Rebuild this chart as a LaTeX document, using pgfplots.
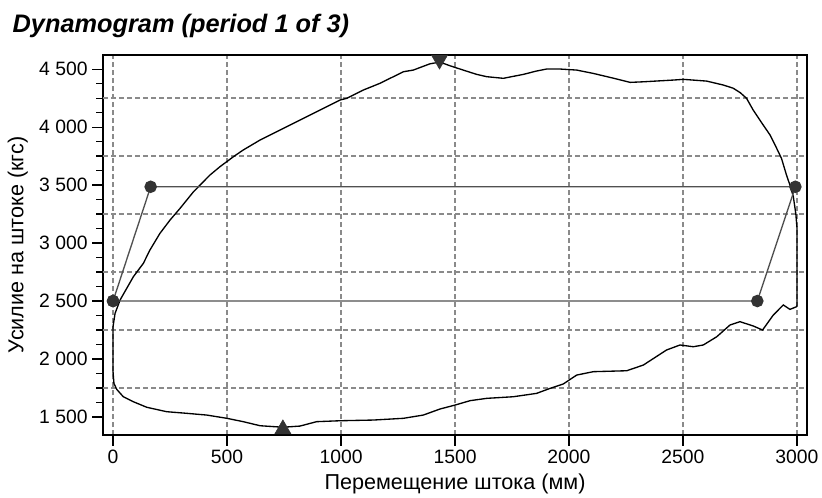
\documentclass[border=0pt]{standalone}
\usepackage{pgfplots}
\pgfplotsset{compat=1.18}
\usepackage{fontspec}
\setmainfont{Liberation Sans}
\definecolor{gridc}{HTML}{8A8A8A}
\definecolor{markc}{HTML}{333333}
\definecolor{linec}{HTML}{505050}
\begin{document}
\begin{tikzpicture}
\begin{axis}[
  scale only axis, width=528pt, height=285pt,
  xmin=-44, xmax=3044, ymin=1345, ymax=4621,
  axis line style={line width=1pt},
  xtick={0,500,1000,1500,2000,2500,3000},
  xticklabels={0,500,1000,1500,2000,2500,3000},
  ytick={1500,2000,2500,3000,3500,4000,4500},
  yticklabels={1 500,2 000,2 500,3 000,3 500,4 000,4 500},
  minor y tick num=3,
  tick align=outside, xtick pos=bottom, ytick pos=left,
  major tick length=8pt, minor tick length=5pt,
  tick style={black, line width=0.8pt},
  xmajorgrids,
  extra y ticks={1750,2250,2750,3250,3750,4250},
  extra y tick labels={},
  extra y tick style={grid=major, tick style={draw=none}},
  major grid style={gridc, dash pattern=on 3.75pt off 2.25pt, line width=0.9pt},
  ticklabel style={font=\fontsize{14.5}{16}\selectfont},
  clip marker paths=true,
]
\addplot[black, line width=1pt] coordinates {
(0,2280)(9,2394)(31,2509)(60,2609)(89,2709)(133,2825)(162,2940)(206,3084)(250,3198)(294,3299)(352,3440)(382,3500)(425,3586)(469,3658)(528,3744)(571,3802)(645,3888)(732,3974)(820,4060)(893,4132)(952,4190)(996,4233)(1025,4247)(1098,4319)(1171,4377)(1274,4477)(1317,4491)(1390,4545)(1434,4560)(1478,4528)(1536,4491)(1595,4454)(1639,4434)(1712,4420)(1800,4454)(1858,4483)(1902,4500)(1961,4500)(2034,4491)(2107,4462)(2180,4428)(2268,4385)(2326,4390)(2458,4405)(2502,4411)(2604,4396)(2677,4362)(2720,4335)(2752,4295)(2779,4247)(2808,4146)(2852,4017)(2882,3931)(2911,3816)(2932,3730)(2954,3586)(2969,3500)(2984,3400)(2995,3250)(3000,3130)(3000,2460)
(2998,2451)(2969,2428)(2940,2466)(2896,2379)(2849,2250)(2808,2285)(2750,2322)(2706,2293)(2648,2192)(2589,2121)(2545,2106)(2487,2121)(2428,2078)(2326,1948)(2253,1899)(2107,1891)(2034,1862)(1975,1785)(1917,1747)(1858,1704)(1756,1675)(1639,1661)(1566,1641)(1500,1603)(1434,1569)(1361,1517)(1274,1489)(1142,1474)(996,1468)(893,1460)(820,1422)(745,1412)(645,1425)(571,1460)(499,1489)(411,1517)(323,1532)(235,1546)(148,1584)(89,1632)(45,1675)(16,1739)(4,1790)(0,1890)(0,2280)
};
\addplot[linec, line width=1pt, mark=*, mark size=4.2pt, mark options={fill=markc, draw=markc}]
  coordinates {(0,2500)(165,3485)(2993,3485)(2826,2500)(0,2500)};
\addplot[only marks, mark=triangle*, mark size=7pt, markc] coordinates {(745,1395)};
\addplot[only marks, mark=triangle*, mark size=7pt, markc, mark options={rotate=180}] coordinates {(1432,4580)};
\end{axis}
\node[anchor=base west, font=\fontsize{19}{22}\selectfont\bfseries\itshape]
  at ([shift={(-71.25pt,16.5pt)}]current axis.north west) {Dynamogram (period 1 of 3)};
\node[anchor=base, font=\fontsize{16.2}{18}\selectfont]
  at ([yshift=-41pt]current axis.south) {Перемещение штока (мм)};
\node[anchor=center, rotate=90, font=\fontsize{16.2}{18}\selectfont]
  at ([xshift=-64pt]current axis.west) {Усилие на штоке (кгс)};
\pgfresetboundingbox
\path[use as bounding box] ([shift={(-77.25pt,-46.5pt)}]current axis.south west) rectangle ([shift={(11.25pt,41.25pt)}]current axis.north east);
\end{tikzpicture}
\end{document}
